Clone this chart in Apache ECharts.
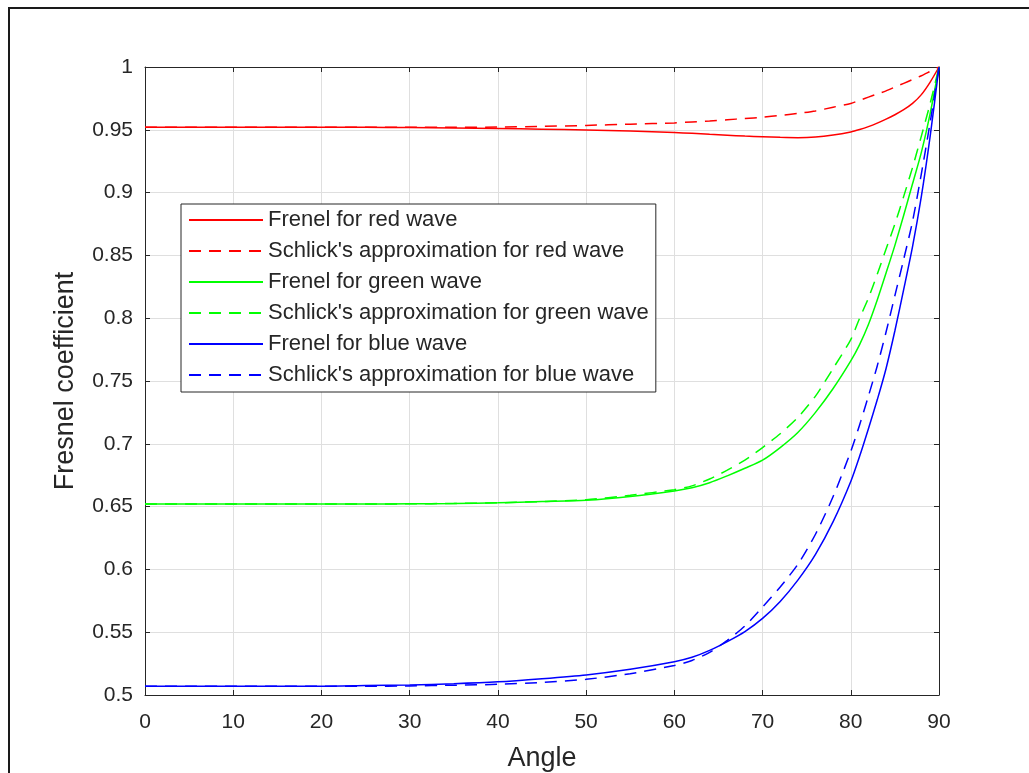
<!DOCTYPE html>
<html>
<head>
<meta charset="utf-8">
<script src="https://cdn.jsdelivr.net/npm/echarts@6/dist/echarts.min.js"></script>
<style>
  html, body { margin: 0; padding: 0; background: #fff; }
  #main { width: 1029px; height: 773px; }
  #frame { position: absolute; left: 8px; top: 7px; width: 1100px; height: 900px;
           border: 2px solid #1a1a1a; pointer-events: none; box-sizing: border-box; }
</style>
</head>
<body>
<div id="main"></div>
<div id="frame"></div>
<script>
// angles (deg)
const angles = [0, 5, 10, 15, 20, 25, 30, 35, 40, 45, 50, 55, 60, 62, 64, 66, 68, 70, 72, 74, 76, 78, 80,
  81, 82, 83, 84, 85, 86, 87, 88, 89, 90]

const redFresnel = [0.952, 0.952, 0.952, 0.952, 0.952, 0.952, 0.9518, 0.9515, 0.951, 0.9505, 0.9498, 0.949,
  0.9478, 0.9472, 0.9464, 0.9457, 0.945, 0.9445, 0.944, 0.9437, 0.9442, 0.9458, 0.9483, 0.9502, 0.9525, 0.9553,
  0.9585, 0.962, 0.966, 0.971, 0.978, 0.988, 1.0]
const redSchlick = [0.952, 0.952, 0.952, 0.952, 0.952, 0.952, 0.952, 0.952, 0.9522, 0.9527, 0.9535, 0.9545,
  0.9555, 0.9563, 0.957, 0.958, 0.959, 0.96, 0.9615, 0.963, 0.965, 0.968, 0.971, 0.9735, 0.976, 0.9785,
  0.981, 0.984, 0.987, 0.99, 0.993, 0.9965, 1.0]
const greenFresnel = [0.652, 0.652, 0.652, 0.652, 0.652, 0.652, 0.6522, 0.6525, 0.653, 0.654, 0.655, 0.658,
  0.6625, 0.665, 0.669, 0.6745, 0.6805, 0.687, 0.697, 0.709, 0.725, 0.744, 0.766, 0.779, 0.795, 0.8145,
  0.836, 0.858, 0.882, 0.907, 0.932, 0.963, 1.0]
const greenSchlick = [0.652, 0.652, 0.652, 0.652, 0.652, 0.652, 0.6522, 0.6525, 0.653, 0.654, 0.6555, 0.659,
  0.6635, 0.6665, 0.672, 0.679, 0.687, 0.697, 0.708, 0.721, 0.738, 0.76, 0.783, 0.8, 0.816, 0.835,
  0.855, 0.875, 0.897, 0.92, 0.945, 0.971, 1.0]
const blueFresnel = [0.507, 0.507, 0.507, 0.507, 0.507, 0.5075, 0.508, 0.509, 0.5105, 0.513, 0.516, 0.5205,
  0.5265, 0.53, 0.5355, 0.5425, 0.5505, 0.561, 0.5745, 0.5915, 0.612, 0.638, 0.67, 0.69, 0.712, 0.735,
  0.76, 0.79, 0.823, 0.857, 0.897, 0.945, 1.0]
const blueSchlick = [0.507, 0.507, 0.507, 0.507, 0.507, 0.507, 0.5072, 0.5078, 0.5085, 0.51, 0.5125, 0.517,
  0.5235, 0.5275, 0.534, 0.5435, 0.555, 0.57, 0.586, 0.604, 0.628, 0.658, 0.694, 0.715, 0.738, 0.762,
  0.789, 0.818, 0.847, 0.877, 0.915, 0.956, 1.0]

const names = ['Frenel for red wave', "Schlick's approximation for red wave",
  'Frenel for green wave', "Schlick's approximation for green wave",
  'Frenel for blue wave', "Schlick's approximation for blue wave"]
const values = [redFresnel, redSchlick, greenFresnel, greenSchlick, blueFresnel, blueSchlick]
const colors = ['#ff0000', '#ff0000', '#00ff00', '#00ff00', '#0000ff', '#0000ff']

const xTicks = { min: 0, max: 90, interval: 10 }
const yTicks = { min: 0.5, max: 1, interval: 0.05 }

const axisColor = '#262626'
const font = 'Liberation Sans, Arial, Helvetica, sans-serif'

function lineAxis(extra) {
  return Object.assign({
    type: 'value',
    axisLine: { show: true, onZero: false, lineStyle: { color: axisColor, width: 1 } },
    axisTick: { show: true, inside: true, length: 5, lineStyle: { color: axisColor } },
    splitLine: { show: true, lineStyle: { color: '#dfdfdf', width: 1 } }
  }, extra)
}

const chart = echarts.init(document.getElementById('main'))
chart.setOption({
  animation: false,
  backgroundColor: '#fff',
  grid: { left: 145, right: 90, top: 67, bottom: 78, outerBoundsMode: 'none', containLabel: false },
  legend: {
    orient: 'vertical',
    left: 181,
    top: 204,
    padding: [5, 7, 6, 7],
    itemWidth: 74,
    itemHeight: 14,
    itemGap: 9,
    borderColor: axisColor,
    borderWidth: 1,
    backgroundColor: '#fff',
    itemStyle: { opacity: 0 },
    textStyle: { fontFamily: font, fontSize: 22, color: axisColor, lineHeight: 22 },
    data: names
  },
  xAxis: [
    lineAxis(Object.assign({}, xTicks, {
      position: 'bottom',
      name: 'Angle',
      nameLocation: 'middle',
      nameGap: 50,
      nameTextStyle: { fontFamily: font, fontSize: 27, color: axisColor },
      axisLabel: { fontFamily: font, fontSize: 21, color: axisColor, margin: 17 }
    })),
    lineAxis(Object.assign({}, xTicks, {
      position: 'top',
      axisLabel: { show: false },
      splitLine: { show: false }
    }))
  ],
  yAxis: [
    lineAxis(Object.assign({}, yTicks, {
      position: 'left',
      name: 'Fresnel coefficient',
      nameLocation: 'middle',
      nameGap: 66,
      nameTextStyle: { fontFamily: font, fontSize: 27, color: axisColor },
      axisLabel: {
        fontFamily: font, fontSize: 21, color: axisColor, margin: 12,
        formatter: v => String(+v.toFixed(2))
      }
    })),
    lineAxis(Object.assign({}, yTicks, {
      position: 'right',
      axisLabel: { show: false },
      splitLine: { show: false }
    }))
  ],
  series: names.map((n, i) => ({
    name: n,
    type: 'line',
    data: angles.map((a, j) => [a, values[i][j]]),
    symbol: 'none',
    smooth: 0.25,
    color: colors[i],
    lineStyle: { color: colors[i], width: 1.5, type: i % 2 ? [12, 8] : 'solid' },
    z: 2 + i
  }))
})
</script>
</body>
</html>
